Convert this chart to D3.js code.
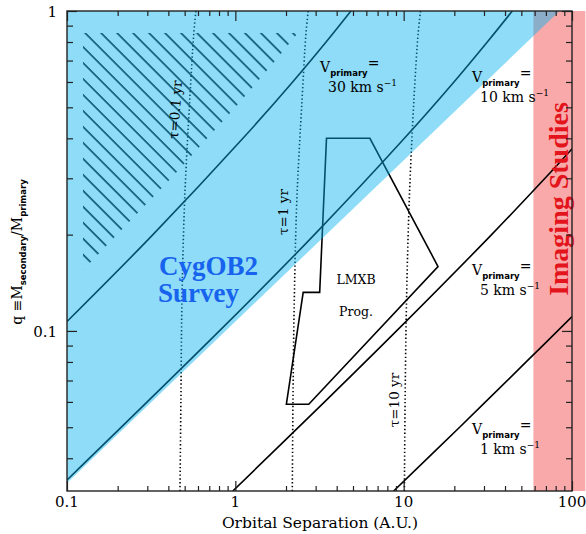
<!DOCTYPE html>
<html>
<head>
<meta charset="utf-8">
<script src="https://cdn.jsdelivr.net/npm/d3@7"></script>
<style>
  body { margin: 0; background: #fff; }
</style>
</head>
<body>
<div id="chart"></div>
<script>
// Axis ranges and ticks
const xDomain = [0.1, 100];
const yDomain = [0.0316, 1];
const xMajor = [0.1, 1, 10, 100];
const xMinor = [0.2, 0.3, 0.4, 0.5, 0.6, 0.7, 0.8, 0.9, 2, 3, 4, 5, 6, 7, 8, 9, 20, 30, 40, 50, 60, 70, 80, 90];
const yMajor = [0.1, 1];
const yMinor = [0.04, 0.05, 0.06, 0.07, 0.08, 0.09, 0.2, 0.3, 0.4, 0.5, 0.6, 0.7, 0.8, 0.9];

// Shaded regions (separation in A.U., q)
const surveyEdge = [[0.1, 0.0335], [84.3, 1], [0.1, 1]];
const imagingRange = [59, 120];
const hatchRegion = [[0.1245, 0.854], [0.1245, 0.155], [0.415, 0.3], [1.0, 0.5], [1.73, 0.7], [2.35, 0.854]];

// Constant primary velocity curves
const v30 = [[0.1, 0.107], [0.324, 0.2], [1.11, 0.4], [2.19, 0.6], [3.46, 0.8], [4.86, 1]];
const v10 = [[0.1, 0.0342], [0.804, 0.1], [2.95, 0.2], [10.1, 0.4], [19.9, 0.6], [31.4, 0.8], [44.2, 1]];
const v5 = [[0.966, 0.0316], [3.39, 0.06], [9.07, 0.1], [33.3, 0.2], [69.1, 0.3], [101, 0.373]];
const v1 = [[8.72, 0.0316], [21.5, 0.05], [53.4, 0.08], [100.4, 0.111]];

// Constant period curves
const tau01 = [[0.469, 0.0316], [0.475, 0.061], [0.482, 0.125], [0.50, 0.257], [0.536, 0.527], [0.567, 0.854], [0.583, 1]];
const tau1 = [[2.18, 0.0316], [2.20, 0.061], [2.24, 0.125], [2.32, 0.257], [2.49, 0.527], [2.63, 0.854], [2.71, 1]];
const tau10 = [[10.1, 0.0316], [10.2, 0.061], [10.4, 0.125], [10.8, 0.257], [11.5, 0.527], [12.2, 0.854], [12.6, 1]];

// LMXB progenitor outline
const lmxb = [[3.48, 0.40], [6.3, 0.40], [16.0, 0.159], [2.73, 0.059], [2.01, 0.059], [2.53, 0.132], [3.17, 0.132]];

const width = 586, height = 534;
const margin = {top: 11, right: 14, bottom: 43, left: 67};
const innerW = width - margin.left - margin.right;
const innerH = height - margin.top - margin.bottom;

const svg = d3.select("#chart").append("svg")
  .attr("width", width)
  .attr("height", height);

const x = d3.scaleLog().domain(xDomain).range([margin.left, margin.left + innerW]);
const y = d3.scaleLog().domain(yDomain).range([margin.top + innerH, margin.top]);

const defs = svg.append("defs");
defs.append("clipPath").attr("id", "plot")
  .append("rect")
  .attr("x", margin.left).attr("y", margin.top)
  .attr("width", innerW).attr("height", innerH);

const pat = defs.append("pattern")
  .attr("id", "hatch")
  .attr("patternUnits", "userSpaceOnUse")
  .attr("width", 11.3).attr("height", 11.3)
  .attr("patternTransform", "rotate(-45)");
pat.append("line")
  .attr("x1", 3).attr("y1", 0).attr("x2", 3).attr("y2", 11.3)
  .attr("stroke", "#000").attr("stroke-width", 1.6);

const line = d3.line().x(d => x(d[0])).y(d => y(d[1]));
const curve = d3.line().x(d => x(d[0])).y(d => y(d[1])).curve(d3.curveCatmullRom);

// Imaging studies band (runs past the frame to the page edge)
svg.append("rect")
  .attr("x", x(imagingRange[0]))
  .attr("y", y(yDomain[1]))
  .attr("width", x(imagingRange[1]) - x(imagingRange[0]))
  .attr("height", y(yDomain[0]) - y(yDomain[1]))
  .attr("fill", "#f9a9a9");

const plot = svg.append("g").attr("clip-path", "url(#plot)");

// hatched corner
plot.append("path")
  .attr("d", line(hatchRegion) + "Z")
  .attr("fill", "url(#hatch)");

// velocity curves
[v30, v10, v5, v1].forEach(d => {
  plot.append("path")
    .attr("d", curve(d))
    .attr("fill", "none")
    .attr("stroke", "#000")
    .attr("stroke-width", 1.6);
});

// period curves
[tau01, tau1, tau10].forEach(d => {
  plot.append("path")
    .attr("d", curve(d))
    .attr("fill", "none")
    .attr("stroke", "#000")
    .attr("stroke-width", 1.6)
    .attr("stroke-dasharray", "1.4,2.4");
});

plot.append("path")
  .attr("d", line(lmxb) + "Z")
  .attr("fill", "none")
  .attr("stroke", "#000")
  .attr("stroke-width", 1.6);

// velocity labels
function vLabel(x0, y0, value) {
  const t1 = svg.append("text")
    .attr("x", x0).attr("y", y0)
    .style("font-family", "DejaVu Serif").style("font-size", "14px");
  t1.append("tspan").text("V");
  t1.append("tspan").attr("dy", 4)
    .style("font-family", "DejaVu Sans").style("font-weight", "bold").style("font-size", "8.5px")
    .text("primary");
  t1.append("tspan").attr("dy", -8).text("=");
  const t2 = svg.append("text")
    .attr("x", x0 + 8).attr("y", y0 + 20)
    .style("font-family", "DejaVu Serif").style("font-size", "14px");
  t2.append("tspan").text(value + " km s");
  t2.append("tspan").attr("dy", -6).style("font-size", "9px").text("\u22121");
}
vLabel(320, 72, "30");
vLabel(472, 82, "10");
vLabel(472, 275, "5");
vLabel(472, 434, "1");

function tauLabel(cx, cy, angle, txt) {
  svg.append("text")
    .attr("transform", `translate(${cx},${cy}) rotate(${angle})`)
    .attr("text-anchor", "middle")
    .style("font-family", "DejaVu Serif").style("font-size", "13.5px")
    .text(txt);
}
tauLabel(180, 110, -86, "\u03C4=0.1 yr");
tauLabel(288, 212, -90, "\u03C4=1 yr");
tauLabel(399, 400, -90, "\u03C4=10 yr");

svg.append("text").attr("x", 356).attr("y", 284).attr("text-anchor", "middle")
  .style("font-family", "DejaVu Serif").style("font-size", "12.5px").text("LMXB");
svg.append("text").attr("x", 356).attr("y", 316).attr("text-anchor", "middle")
  .style("font-family", "DejaVu Serif").style("font-size", "12.5px").text("Prog.");

// CygOB2 survey coverage, laid over everything below it
plot.append("path")
  .attr("d", line(surveyEdge) + "Z")
  .attr("fill", "rgb(5,178,238)")
  .attr("fill-opacity", 0.45);

svg.append("text").attr("x", 159).attr("y", 275)
  .style("font-family", "Liberation Serif").style("font-weight", "bold").style("font-size", "27px")
  .attr("fill", "#1763ee").text("CygOB2");
svg.append("text").attr("x", 158).attr("y", 302)
  .style("font-family", "Liberation Serif").style("font-weight", "bold").style("font-size", "27px")
  .attr("fill", "#1763ee").text("Survey");

svg.append("text")
  .attr("transform", "translate(568,199) rotate(-90)")
  .attr("text-anchor", "middle")
  .style("font-family", "Liberation Serif").style("font-weight", "bold").style("font-size", "28px")
  .attr("fill", "#e3141c").text("Imaging Studies");

// frame and inward ticks on all sides
const axisColor = "#222";
function styleAxis(g) {
  g.select(".domain").remove();
  g.selectAll(".tick line").attr("stroke", axisColor).attr("stroke-width", 1.2);
  g.selectAll(".tick text").remove();
}
const bottom = margin.top + innerH, right = margin.left + innerW;
[[d3.axisBottom, bottom, -10, xMajor], [d3.axisBottom, bottom, -5, xMinor],
 [d3.axisTop, margin.top, -10, xMajor], [d3.axisTop, margin.top, -5, xMinor]].forEach(([ax, pos, len, vals]) => {
  svg.append("g").attr("transform", `translate(0,${pos})`)
    .call(ax(x).tickValues(vals).tickSize(len)).call(styleAxis);
});
[[d3.axisLeft, margin.left, -10, yMajor], [d3.axisLeft, margin.left, -6, yMinor],
 [d3.axisRight, right, -10, yMajor], [d3.axisRight, right, -6, yMinor]].forEach(([ax, pos, len, vals]) => {
  svg.append("g").attr("transform", `translate(${pos},0)`)
    .call(ax(y).tickValues(vals).tickSize(len)).call(styleAxis);
});

svg.append("rect")
  .attr("x", margin.left).attr("y", margin.top)
  .attr("width", innerW).attr("height", innerH)
  .attr("fill", "none").attr("stroke", axisColor).attr("stroke-width", 1.4);

// tick labels
const fmt = d => d >= 1 ? d3.format("d")(d) : String(d);
svg.selectAll(".xlab").data(xMajor).enter().append("text")
  .attr("x", d => x(d)).attr("y", bottom + 16)
  .attr("text-anchor", "middle")
  .style("font-family", "DejaVu Serif").style("font-size", "15px")
  .text(fmt);
svg.selectAll(".ylab").data(yMajor).enter().append("text")
  .attr("x", margin.left - 10).attr("y", d => y(d) + 6)
  .attr("text-anchor", "end")
  .style("font-family", "DejaVu Serif").style("font-size", "15px")
  .text(fmt);

svg.append("text")
  .attr("x", 320).attr("y", 528)
  .attr("text-anchor", "middle")
  .style("font-family", "DejaVu Serif").style("font-size", "15.5px")
  .text("Orbital Separation (A.U.)");

const yl = svg.append("text")
  .attr("transform", "translate(22,252) rotate(-90)")
  .attr("text-anchor", "middle")
  .style("font-family", "DejaVu Serif").style("font-size", "14px");
yl.append("tspan").text("q \u2261M");
yl.append("tspan").attr("dy", 4)
  .style("font-family", "DejaVu Sans").style("font-weight", "bold").style("font-size", "8.5px")
  .text("secondary");
yl.append("tspan").attr("dy", -4).text("/M");
yl.append("tspan").attr("dy", 4)
  .style("font-family", "DejaVu Sans").style("font-weight", "bold").style("font-size", "8.5px")
  .text("primary");
</script>
</body>
</html>
